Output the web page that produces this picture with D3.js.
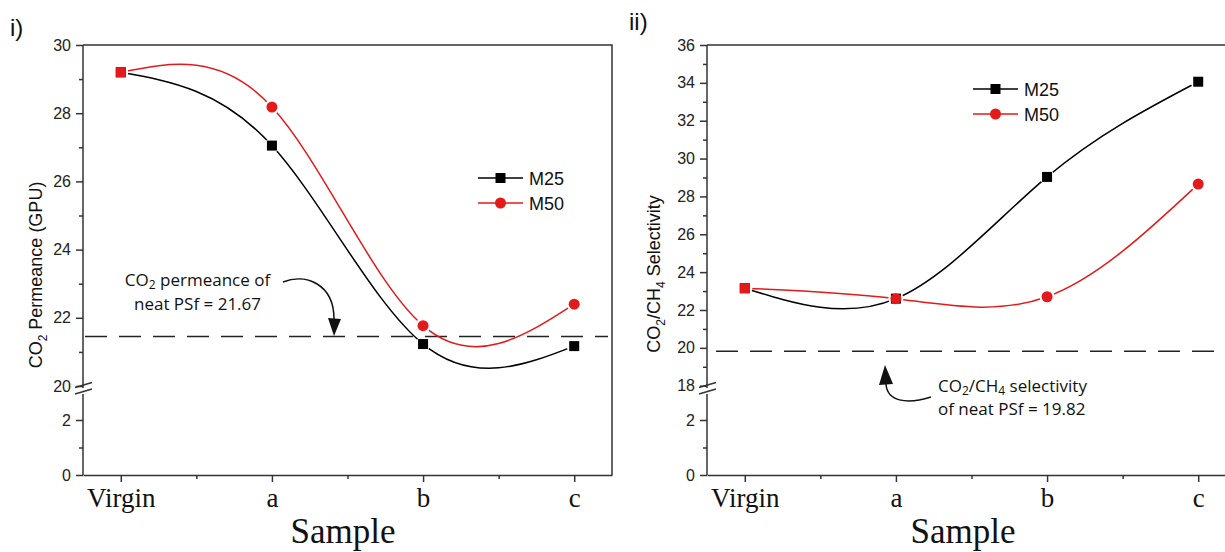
<!DOCTYPE html>
<html>
<head>
<meta charset="utf-8">
<script src="https://cdn.jsdelivr.net/npm/d3@7"></script>
<style>
  body { margin: 0; background: #fff; }
  svg { display: block; }
</style>
</head>
<body>
<svg id="chart" width="1225" height="552"></svg>
<script>
// Data
const samples = ["Virgin", "a", "b", "c"];
const permM25 = [29.2, 27.05, 21.23, 21.17];
const permM50 = [29.2, 28.18, 21.77, 22.4];
const selM25 = [23.15, 22.6, 29.03, 34.06];
const selM50 = [23.15, 22.6, 22.7, 28.65];
const permNeatLine = 21.45;   // where the dashed line sits
const selNeatLine = 19.82;
const permUpperTicks = [20, 22, 24, 26, 28, 30];
const permUpperMinor = [21, 23, 25, 27, 29];
const selUpperTicks = [18, 20, 22, 24, 26, 28, 30, 32, 34, 36];
const selUpperMinor = [19, 21, 23, 25, 27, 29, 31, 33, 35];
const lowerTicks = [0, 2];
const lowerMinor = [1];

const RED = "#e41a1a";
const AX = "#333";
const svg = d3.select("#chart");
const defs = svg.append("defs");

function drawPanel(p) {
    const g = svg.append("g");
    const x = d3.scaleLinear().domain([-0.25, 3.25]).range([p.x0, p.x1]);
    const yUp = d3.scaleLinear().domain(p.upDomain).range([p.upBottom, p.top]);
    const yLow = d3.scaleLinear().domain([0, 2]).range([p.bottom, 420]);

    // frame (top + right)
    g.append("path")
        .attr("d", `M${p.x0},${p.top}H${p.x1}V${p.bottom}`)
        .attr("fill", "none").attr("stroke", AX).attr("stroke-width", 1.5);

    // x axis
    const xa = g.append("g").attr("transform", `translate(0,${p.bottom})`)
        .call(d3.axisBottom(x).tickValues([0, 1, 2, 3]).tickFormat(i => samples[i])
            .tickSize(7).tickSizeOuter(0).tickPadding(6));
    xa.select(".domain").attr("stroke", AX).attr("stroke-width", 1.5);
    xa.selectAll(".tick line").attr("stroke", AX).attr("stroke-width", 1.5);
    xa.selectAll("text").attr("font-family", "Liberation Serif, Times New Roman, serif")
        .attr("font-size", 27).attr("fill", "#111");
    const xm = g.append("g").attr("transform", `translate(0,${p.bottom})`)
        .call(d3.axisBottom(x).tickValues([0.5, 1.5, 2.5]).tickFormat("").tickSize(4));
    xm.select(".domain").remove();
    xm.selectAll(".tick line").attr("stroke", AX).attr("stroke-width", 1.5);

    // y axes (upper and lower segments)
    function yAxis(scale, ticks, minor) {
        const a = g.append("g").attr("transform", `translate(${p.x0},0)`)
            .call(d3.axisLeft(scale).tickValues(ticks).tickFormat(d3.format("d"))
                .tickSize(7).tickPadding(5));
        a.select(".domain").remove();
        a.selectAll(".tick line").attr("stroke", AX).attr("stroke-width", 1.5);
        a.selectAll("text").attr("font-family", "Liberation Sans, Arial, sans-serif")
            .attr("font-size", 16).attr("fill", "#222");
        const m = g.append("g").attr("transform", `translate(${p.x0},0)`)
            .call(d3.axisLeft(scale).tickValues(minor).tickFormat("").tickSize(4));
        m.select(".domain").remove();
        m.selectAll(".tick line").attr("stroke", AX).attr("stroke-width", 1.5);
    }
    yAxis(yUp, p.upTicks, p.upMinor);
    yAxis(yLow, lowerTicks, lowerMinor);

    // axis line with break
    g.append("line").attr("x1", p.x0).attr("x2", p.x0).attr("y1", p.top).attr("y2", 388)
        .attr("stroke", AX).attr("stroke-width", 1.5);
    g.append("line").attr("x1", p.x0).attr("x2", p.x0).attr("y1", 394).attr("y2", p.bottom)
        .attr("stroke", AX).attr("stroke-width", 1.5);
    [385, 391.5].forEach(yy => {
        g.append("line").attr("x1", p.x0 - 8).attr("y1", yy + 2.5)
            .attr("x2", p.x0 + 9).attr("y2", yy - 2.5)
            .attr("stroke", AX).attr("stroke-width", 1.5);
    });

    // dashed reference line
    g.append("line")
        .attr("x1", p.dashX0).attr("x2", p.dashX1)
        .attr("y1", yUp(p.neat)).attr("y2", yUp(p.neat))
        .attr("stroke", "#222").attr("stroke-width", 1.5)
        .attr("stroke-dasharray", "22,12");

    // series lines with small gaps round the symbols
    const line = d3.line().x((d, i) => x(i)).y(d => yUp(d)).curve(d3.curveNatural);
    p.series.forEach((s, k) => {
        const id = `mask-${p.name}-${k}`;
        const mask = defs.append("mask").attr("id", id).attr("maskUnits", "userSpaceOnUse")
            .attr("x", 0).attr("y", 0).attr("width", 1225).attr("height", 552);
        mask.append("rect").attr("width", 1225).attr("height", 552).attr("fill", "#fff");
        s.values.forEach((v, i) => {
            mask.append("circle").attr("cx", x(i)).attr("cy", yUp(v)).attr("r", 7.5).attr("fill", "#000");
        });
        g.append("path").datum(s.values)
            .attr("d", line)
            .attr("fill", "none").attr("stroke", s.color).attr("stroke-width", 1.5)
            .attr("mask", `url(#${id})`);
    });
    p.series.forEach(s => {
        s.values.forEach((v, i) => {
            const square = s.shape === "square" || i === 0;
            if (square) {
                g.append("rect").attr("x", x(i) - 5).attr("y", yUp(v) - 5)
                    .attr("width", 10).attr("height", 10).attr("fill", s.color);
            } else {
                g.append("circle").attr("cx", x(i)).attr("cy", yUp(v)).attr("r", 5.5).attr("fill", s.color);
            }
        });
    });

    // legend
    p.series.forEach((s, k) => {
        const ly = p.legY + k * 25;
        g.append("line").attr("x1", p.legX).attr("x2", p.legX + 45).attr("y1", ly).attr("y2", ly)
            .attr("stroke", s.color).attr("stroke-width", 1.5);
        if (s.shape === "square") {
            g.append("rect").attr("x", p.legX + 22.5 - 5).attr("y", ly - 5)
                .attr("width", 10).attr("height", 10).attr("fill", s.color);
        } else {
            g.append("circle").attr("cx", p.legX + 22.5).attr("cy", ly).attr("r", 5.5).attr("fill", s.color);
        }
        g.append("text").attr("x", p.legX + 51).attr("y", ly + 6.5)
            .attr("font-family", "Liberation Sans, Arial, sans-serif").attr("font-size", 18)
            .attr("fill", "#111").text(s.label);
    });

    // x title
    g.append("text").attr("x", p.titleX).attr("y", p.titleY).attr("text-anchor", "middle")
        .attr("font-family", "Liberation Serif, Times New Roman, serif").attr("font-size", 35)
        .attr("fill", "#111").text("Sample");

    // panel letter
    g.append("text").attr("x", p.letterX).attr("y", p.letterY)
        .attr("font-family", "Liberation Sans, Arial, sans-serif").attr("font-size", 24)
        .attr("fill", "#111").text(p.letter);

    return { g, x, yUp };
}

// helper for text with subscripts: parts = [[text, isSub], ...]
function richText(sel, parts, subSize, shift) {
    parts.forEach(([t, sub]) => {
        const ts = sel.append("tspan").text(t);
        if (sub) ts.attr("font-size", subSize).attr("dy", shift);
        else ts.attr("dy", sel.node().childNodes.length > 1 ? -shift : 0);
    });
}

// Panel i) – CO2 permeance
drawPanel({
    name: "perm", letter: "i)", letterX: 10, letterY: 36,
    x0: 83, x1: 612, top: 45, bottom: 475,
    upDomain: [20, 30], upBottom: 386, upTicks: permUpperTicks, upMinor: permUpperMinor,
    neat: permNeatLine, dashX0: 85, dashX1: 608,
    series: [
        { label: "M25", values: permM25, color: "#000", shape: "square" },
        { label: "M50", values: permM50, color: RED, shape: "circle" }
    ],
    legX: 478, legY: 178, titleX: 343, titleY: 543
});

// Panel ii) – CO2/CH4 selectivity
drawPanel({
    name: "sel", letter: "ii)", letterX: 629, letterY: 30,
    x0: 707, x1: 1236, top: 45, bottom: 475,
    upDomain: [18, 36], upBottom: 385.7, upTicks: selUpperTicks, upMinor: selUpperMinor,
    neat: selNeatLine, dashX0: 716, dashX1: 1225,
    series: [
        { label: "M25", values: selM25, color: "#000", shape: "square" },
        { label: "M50", values: selM50, color: RED, shape: "circle" }
    ],
    legX: 973, legY: 89, titleX: 963, titleY: 543
});

// y titles
const yt1 = svg.append("text").attr("transform", "translate(42,275) rotate(-90)")
    .attr("text-anchor", "middle").attr("font-family", "Liberation Sans, Arial, sans-serif")
    .attr("font-size", 18).attr("fill", "#111");
richText(yt1, [["CO", false], ["2", true], [" Permeance (GPU)", false]], 12, 5);

const yt2 = svg.append("text").attr("transform", "translate(660,274) rotate(-90)")
    .attr("text-anchor", "middle").attr("font-family", "Liberation Sans, Arial, sans-serif")
    .attr("font-size", 18).attr("fill", "#111");
richText(yt2, [["CO", false], ["2", true], ["/CH", false], ["4", true], [" Selectivity", false]], 12, 5);

// annotations
const annFont = "Open Sans, Lato, sans-serif";
const a1 = svg.append("text").attr("x", 197.5).attr("y", 286).attr("text-anchor", "middle")
    .attr("font-family", annFont).attr("font-size", 17).attr("fill", "#111");
richText(a1, [["CO", false], ["2", true], [" permeance of", false]], 12, 3);
svg.append("text").attr("x", 197.5).attr("y", 310).attr("text-anchor", "middle")
    .attr("font-family", annFont).attr("font-size", 17).attr("fill", "#111")
    .text("neat PSf = 21.67");

const a2 = svg.append("text").attr("x", 938).attr("y", 392)
    .attr("font-family", annFont).attr("font-size", 17).attr("fill", "#111");
richText(a2, [["CO", false], ["2", true], ["/CH", false], ["4", true], [" selectivity", false]], 12, 3);
svg.append("text").attr("x", 938).attr("y", 415)
    .attr("font-family", annFont).attr("font-size", 17).attr("fill", "#111")
    .text("of neat PSf = 19.82");

// arrows
svg.append("path").attr("d", "M283,282 C306,273 334,284 334,319")
    .attr("fill", "none").attr("stroke", "#111").attr("stroke-width", 1.5);
svg.append("path").attr("d", "M328,318 L341,319 L334,336 Z").attr("fill", "#111");

svg.append("path").attr("d", "M931,397 C906,405 887,401 886,384")
    .attr("fill", "none").attr("stroke", "#111").attr("stroke-width", 1.5);
svg.append("path").attr("d", "M879,385 L893,384 L885,365 Z").attr("fill", "#111");
</script>
</body>
</html>
